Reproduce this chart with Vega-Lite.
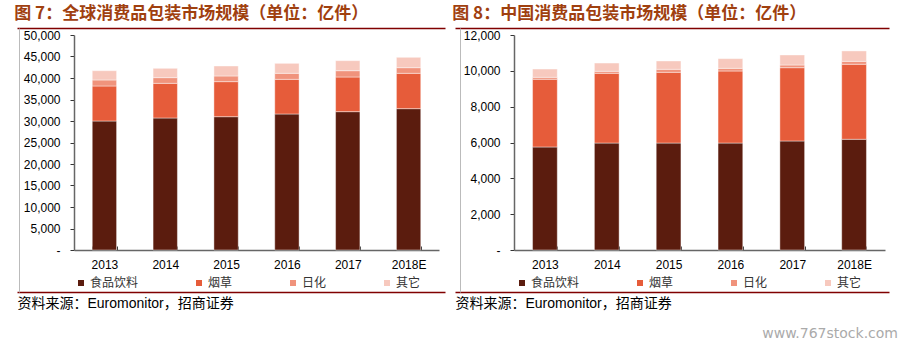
{
  "$schema": "https://vega.github.io/schema/vega-lite/v6.json",
  "padding": {"left": 14, "top": 5, "right": 0, "bottom": 0},
  "background": "white",
  "datasets": {
    "global": [
      {"year": "2013", "cat": "食品饮料", "v": 30000}, {"year": "2013", "cat": "烟草", "v": 8140}, {"year": "2013", "cat": "日化", "v": 1400}, {"year": "2013", "cat": "其它", "v": 2160},
      {"year": "2014", "cat": "食品饮料", "v": 30700}, {"year": "2014", "cat": "烟草", "v": 8060}, {"year": "2014", "cat": "日化", "v": 1320}, {"year": "2014", "cat": "其它", "v": 2170},
      {"year": "2015", "cat": "食品饮料", "v": 31000}, {"year": "2015", "cat": "烟草", "v": 8150}, {"year": "2015", "cat": "日化", "v": 1320}, {"year": "2015", "cat": "其它", "v": 2320},
      {"year": "2016", "cat": "食品饮料", "v": 31630}, {"year": "2016", "cat": "烟草", "v": 8060}, {"year": "2016", "cat": "日化", "v": 1400}, {"year": "2016", "cat": "其它", "v": 2320},
      {"year": "2017", "cat": "食品饮料", "v": 32170}, {"year": "2017", "cat": "烟草", "v": 8060}, {"year": "2017", "cat": "日化", "v": 1470}, {"year": "2017", "cat": "其它", "v": 2330},
      {"year": "2018E", "cat": "食品饮料", "v": 32870}, {"year": "2018E", "cat": "烟草", "v": 8220}, {"year": "2018E", "cat": "日化", "v": 1310}, {"year": "2018E", "cat": "其它", "v": 2410}
    ],
    "china": [
      {"year": "2013", "cat": "食品饮料", "v": 5750}, {"year": "2013", "cat": "烟草", "v": 3780}, {"year": "2013", "cat": "日化", "v": 110}, {"year": "2013", "cat": "其它", "v": 460},
      {"year": "2014", "cat": "食品饮料", "v": 5970}, {"year": "2014", "cat": "烟草", "v": 3890}, {"year": "2014", "cat": "日化", "v": 115}, {"year": "2014", "cat": "其它", "v": 460},
      {"year": "2015", "cat": "食品饮料", "v": 5970}, {"year": "2015", "cat": "烟草", "v": 3945}, {"year": "2015", "cat": "日化", "v": 170}, {"year": "2015", "cat": "其它", "v": 465},
      {"year": "2016", "cat": "食品饮料", "v": 5970}, {"year": "2016", "cat": "烟草", "v": 4020}, {"year": "2016", "cat": "日化", "v": 150}, {"year": "2016", "cat": "其它", "v": 540},
      {"year": "2017", "cat": "食品饮料", "v": 6085}, {"year": "2017", "cat": "烟草", "v": 4090}, {"year": "2017", "cat": "日化", "v": 150}, {"year": "2017", "cat": "其它", "v": 560},
      {"year": "2018E", "cat": "食品饮料", "v": 6180}, {"year": "2018E", "cat": "烟草", "v": 4185}, {"year": "2018E", "cat": "日化", "v": 165}, {"year": "2018E", "cat": "其它", "v": 580}
    ],
    "frame": [{"f": 0}]
  },
  "title": {"text": "www.767stock.com", "orient": "bottom", "anchor": "end", "fontSize": 14, "fontWeight": "normal", "color": "#aaaaaa", "font": "DejaVu Sans", "offset": 17, "dx": 9},
  "hconcat": [
    {
      "width": 428,
      "height": 264,
      "title": {"text": "图 7：全球消费品包装市场规模（单位：亿件）"},
      "resolve": {"scale": {"x": "independent", "y": "independent"}, "axis": {"x": "independent", "y": "independent"}},
      "layer": [
        {
          "data": {"name": "global"},
          "mark": {"type": "bar", "stroke": "#ffffff", "strokeWidth": 0.6, "strokeOpacity": 0.7},
          "encoding": {
            "x": {"field": "year", "type": "ordinal",
              "scale": {"range": [57, 422], "paddingInner": 0.6, "paddingOuter": 0.3},
              "axis": {"orient": "bottom", "offset": -42, "title": null, "labelAngle": 0, "domainColor": "#666666", "domainWidth": 1.5, "tickBand": "extent", "tickSize": -4, "tickColor": "#333333", "labelPadding": 13, "labelFont": "Liberation Sans", "labelFontSize": 12, "labelColor": "#000000"}},
            "y": {"field": "v", "type": "quantitative", "aggregate": "sum", "stack": "zero",
              "scale": {"domain": [0, 50000], "range": [222, 7], "nice": false},
              "axis": {"orient": "left", "offset": -57, "title": null, "grid": false, "values": [0, 5000, 10000, 15000, 20000, 25000, 30000, 35000, 40000, 45000, 50000], "labelExpr": "datum.value == 0 ? '-' : format(datum.value, ',')", "domainColor": "#666666", "domainWidth": 1.5, "tickSize": 4, "tickColor": "#333333", "labelPadding": 10, "labelFont": "Liberation Sans", "labelFontSize": 12, "labelColor": "#000000"}},
            "color": {"field": "cat", "type": "nominal",
              "scale": {"domain": ["食品饮料", "烟草", "日化", "其它"], "range": ["#5B1C0E", "#E65C3A", "#F0937C", "#F7C9BE"]},
              "legend": {"orient": "none", "legendX": 58, "legendY": 249, "direction": "horizontal", "title": null, "symbolType": "square", "symbolSize": 36, "symbolStrokeWidth": 0, "labelFont": "Noto Sans CJK SC", "labelFontSize": 12, "labelColor": "#333333", "columnPadding": 54, "labelOffset": 3}},
            "order": {"field": "cat", "sort": "descending"}
          }
        },
        {
          "data": {"name": "frame"},
          "mark": {"type": "point", "opacity": 0},
          "encoding": {
            "x": {"datum": 0, "type": "quantitative", "scale": {"domain": [0, 1]}, "axis": {"orient": "top", "domainColor": "#800000", "domainWidth": 1.5, "ticks": false, "labels": false, "grid": false, "title": null}},
            "y": {"datum": 0, "type": "quantitative", "scale": {"domain": [0, 1]}, "axis": {"orient": "left", "offset": -2, "domainColor": "#bbbbbb", "domainWidth": 1, "ticks": false, "labels": false, "grid": false, "title": null}}
          }
        },
        {
          "data": {"name": "frame"},
          "mark": {"type": "point", "opacity": 0},
          "encoding": {
            "x": {"datum": 0, "type": "quantitative", "scale": {"domain": [0, 1]}, "axis": {"orient": "bottom", "domainColor": "#800000", "domainWidth": 1.5, "ticks": false, "labels": false, "grid": false, "title": "资料来源：Euromonitor，招商证券", "titleAnchor": "start", "titleAlign": "left", "titlePadding": 4, "titleFont": "Liberation Sans, Noto Sans CJK SC", "titleFontSize": 14, "titleFontWeight": "normal", "titleColor": "#000000"}}
          }
        }
      ]
    },
    {
      "width": 434,
      "height": 264,
      "title": {"text": "图 8：中国消费品包装市场规模（单位：亿件）"},
      "resolve": {"scale": {"x": "independent", "y": "independent"}, "axis": {"x": "independent", "y": "independent"}},
      "layer": [
        {
          "data": {"name": "china"},
          "mark": {"type": "bar", "stroke": "#ffffff", "strokeWidth": 0.6, "strokeOpacity": 0.7},
          "encoding": {
            "x": {"field": "year", "type": "ordinal",
              "scale": {"range": [59, 430], "paddingInner": 0.6, "paddingOuter": 0.3},
              "axis": {"orient": "bottom", "offset": -42, "title": null, "labelAngle": 0, "domainColor": "#666666", "domainWidth": 1.5, "tickBand": "extent", "tickSize": -4, "tickColor": "#333333", "labelPadding": 13, "labelFont": "Liberation Sans", "labelFontSize": 12, "labelColor": "#000000"}},
            "y": {"field": "v", "type": "quantitative", "aggregate": "sum", "stack": "zero",
              "scale": {"domain": [0, 12000], "range": [222, 7], "nice": false},
              "axis": {"orient": "left", "offset": -59, "title": null, "grid": false, "values": [0, 2000, 4000, 6000, 8000, 10000, 12000], "labelExpr": "datum.value == 0 ? '-' : format(datum.value, ',')", "domainColor": "#666666", "domainWidth": 1.5, "tickSize": 4, "tickColor": "#333333", "labelPadding": 10, "labelFont": "Liberation Sans", "labelFontSize": 12, "labelColor": "#000000"}},
            "color": {"field": "cat", "type": "nominal",
              "scale": {"domain": ["食品饮料", "烟草", "日化", "其它"], "range": ["#5B1C0E", "#E65C3A", "#F0937C", "#F7C9BE"]},
              "legend": {"orient": "none", "legendX": 61, "legendY": 249, "direction": "horizontal", "title": null, "symbolType": "square", "symbolSize": 36, "symbolStrokeWidth": 0, "labelFont": "Noto Sans CJK SC", "labelFontSize": 12, "labelColor": "#333333", "columnPadding": 54, "labelOffset": 3}},
            "order": {"field": "cat", "sort": "descending"}
          }
        },
        {
          "data": {"name": "frame"},
          "mark": {"type": "point", "opacity": 0},
          "encoding": {
            "x": {"datum": 0, "type": "quantitative", "scale": {"domain": [0, 1]}, "axis": {"orient": "top", "domainColor": "#800000", "domainWidth": 1.5, "ticks": false, "labels": false, "grid": false, "title": null}},
            "y": {"datum": 0, "type": "quantitative", "scale": {"domain": [0, 1]}, "axis": {"orient": "left", "offset": -5, "domainColor": "#bbbbbb", "domainWidth": 1, "ticks": false, "labels": false, "grid": false, "title": null}}
          }
        },
        {
          "data": {"name": "frame"},
          "mark": {"type": "point", "opacity": 0},
          "encoding": {
            "x": {"datum": 0, "type": "quantitative", "scale": {"domain": [0, 1]}, "axis": {"orient": "bottom", "domainColor": "#800000", "domainWidth": 1.5, "ticks": false, "labels": false, "grid": false, "title": "资料来源：Euromonitor，招商证券", "titleAnchor": "start", "titleAlign": "left", "titlePadding": 4, "titleFont": "Liberation Sans, Noto Sans CJK SC", "titleFontSize": 14, "titleFontWeight": "normal", "titleColor": "#000000"}}
          }
        }
      ]
    }
  ],
  "resolve": {"legend": {"color": "independent"}, "scale": {"color": "independent"}},
  "spacing": 7,
  "config": {
    "view": {"stroke": null},
    "title": {"font": "Noto Sans CJK SC", "fontSize": 17, "fontWeight": "bold", "color": "#A0400F", "anchor": "start", "offset": 5}
  }
}
